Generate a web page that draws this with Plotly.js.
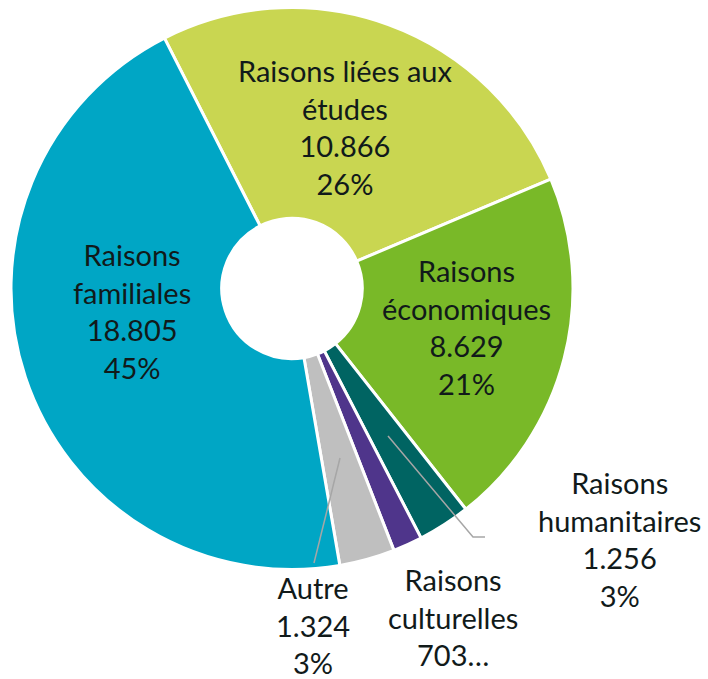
<!DOCTYPE html>
<html>
<head>
<meta charset="utf-8">
<script src="https://cdn.plot.ly/plotly-3.0.1.min.js"></script>
<style>
html,body{margin:0;padding:0;background:#fff;}
#chart{width:708px;height:679px;}
</style>
</head>
<body>
<div id="chart"></div>
<script>
// ---- data ----
var categories = ['Raisons liées aux études', 'Raisons économiques', 'Raisons humanitaires', 'Raisons culturelles', 'Autre', 'Raisons familiales'];
var labelLines = ['Raisons liées aux<br>études', 'Raisons<br>économiques', 'Raisons<br>humanitaires', 'Raisons<br>culturelles', 'Autre', 'Raisons<br>familiales'];
var values = [10866, 8629, 1256, 703, 1324, 18805];
var truncated = [false, false, false, true, false, false];
var colors = ['#C9D651', '#79B928', '#006462', '#4F358B', '#BFBFBF', '#00A6C5'];

// ---- layout helpers ----
var W = 708, H = 679;
function px(x) { return x / W; }
function py(y) { return 1 - y / H; }

var total = values.reduce(function (a, b) { return a + b; }, 0);
function fmt(n) { return String(n).replace(/\B(?=(\d{3})+(?!\d))/g, '.'); }

var labelPos = [[345, 127], [466, 327], [619, 539], [453, 617], [313, 625], [132, 311]];

var annotations = categories.map(function (c, i) {
  var t = labelLines[i] + '<br>' + fmt(values[i]);
  if (truncated[i]) t += '…';
  else t += '<br>' + Math.round(values[i] / total * 100) + '%';
  return {
    xref: 'paper', yref: 'paper',
    x: px(labelPos[i][0]), y: py(labelPos[i][1]),
    xanchor: 'center', yanchor: 'middle',
    text: t, showarrow: false, align: 'center',
    font: {family: 'Lato, sans-serif', size: 29, color: '#111a1a'}
  };
});

function pathFrom(pts) {
  return pts.map(function (p, k) { return (k ? 'L' : 'M') + px(p[0]) + ',' + py(p[1]); }).join(' ');
}
var leader = {color: '#A6A6A6', width: 1.5};
var shapes = [
  {type: 'path', xref: 'paper', yref: 'paper', path: pathFrom([[340, 458], [314, 563]]), line: leader},
  {type: 'path', xref: 'paper', yref: 'paper', path: pathFrom([[388, 436], [473, 537], [485, 537]]), line: leader}
];

var data = [{
  type: 'pie',
  labels: categories,
  values: values,
  sort: false,
  direction: 'clockwise',
  rotation: -27,
  hole: 0.25,
  marker: {colors: colors, line: {color: '#FFFFFF', width: 3}},
  textinfo: 'none',
  hoverinfo: 'none',
  showlegend: false,
  domain: {x: [0.01554, 0.80932], y: [0.16127, 0.98895]}
}];

var layout = {
  width: W, height: H,
  margin: {l: 0, r: 0, t: 0, b: 0},
  paper_bgcolor: '#FFFFFF',
  showlegend: false,
  annotations: annotations,
  shapes: shapes
};

Plotly.newPlot('chart', data, layout, {staticPlot: true, displayModeBar: false});
</script>
</body>
</html>
